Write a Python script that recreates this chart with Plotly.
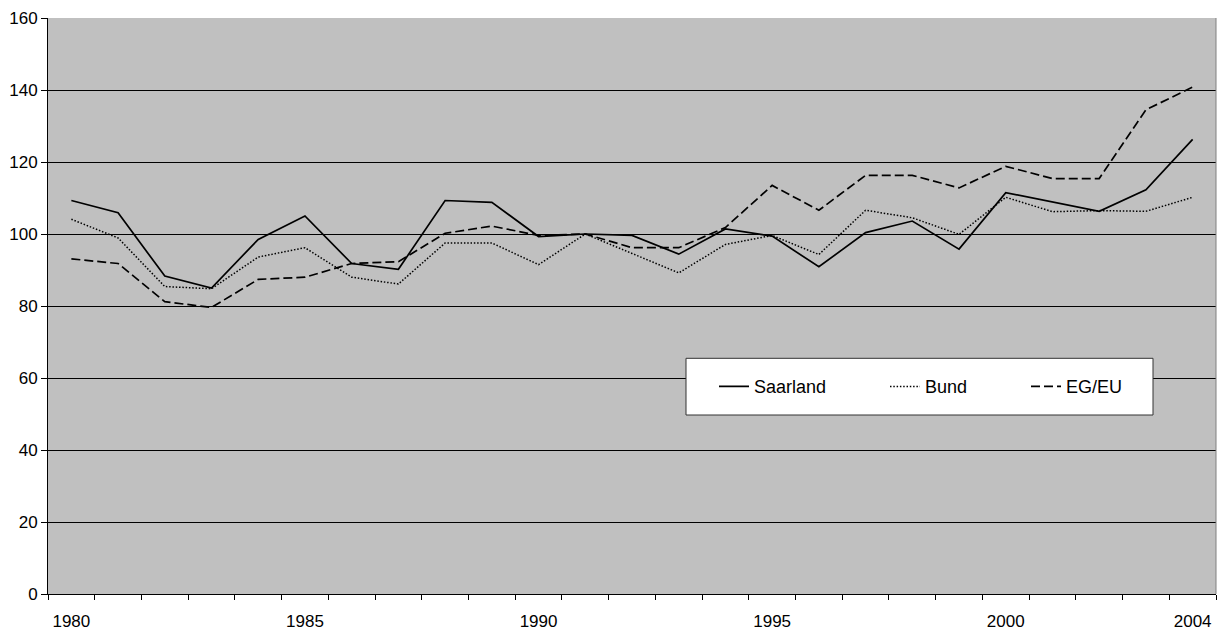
import plotly.graph_objects as go

years = list(range(1980, 2005))
saarland = [109.3, 105.9, 88.3, 85.0, 98.5, 105.0, 91.8, 90.2, 109.3, 108.8, 99.3, 100.0, 99.6,
            94.4, 101.4, 99.4, 90.9, 100.4, 103.6, 95.8, 111.5, 108.8, 106.3, 112.3, 126.3]
bund = [104.1, 98.9, 85.4, 84.8, 93.6, 96.2, 88.0, 86.1, 97.5, 97.5, 91.5, 100.0, 94.6,
        89.2, 97.1, 99.6, 94.3, 106.6, 104.5, 99.9, 110.2, 106.2, 106.5, 106.3, 110.2]
eu = [93.1, 91.8, 81.2, 79.6, 87.4, 88.0, 91.8, 92.3, 100.2, 102.2, 99.6, 100.0, 96.2,
      96.2, 101.8, 113.5, 106.6, 116.3, 116.3, 112.8, 118.8, 115.4, 115.4, 134.5, 140.8]
xtick_labels = [1980, 1985, 1990, 1995, 2000, 2004]
series_names = ["Saarland", "Bund", "EG/EU"]

FONT = "Liberation Sans, Arial, Helvetica, sans-serif"

fig = go.Figure()
fig.add_trace(go.Scatter(x=years, y=saarland, name=series_names[0], mode="lines",
                         line=dict(color="black", width=1.7), legend="legend"))
fig.add_trace(go.Scatter(x=years, y=bund, name=series_names[1], mode="lines",
                         line=dict(color="black", width=1.5, dash="1.5px,1.8px"), legend="legend2"))
fig.add_trace(go.Scatter(x=years, y=eu, name=series_names[2], mode="lines",
                         line=dict(color="black", width=1.7, dash="9px,4px"), legend="legend3"))

L, R, T, B = 48, 3, 18, 38
W, H = 1219, 632
pw, ph = W - L - R, H - T - B

def px_x(p):
    return (p - L) / pw

def px_y(p):
    return (H - B - p) / ph

leg_common = dict(orientation="h", bgcolor="rgba(0,0,0,0)", borderwidth=0,
                  font=dict(family=FONT, size=18, color="black"),
                  xanchor="left", yanchor="middle", y=px_y(386.7))

fig.update_layout(
    width=W, height=H,
    margin=dict(l=L, r=R, t=T, b=B, autoexpand=False),
    paper_bgcolor="white",
    plot_bgcolor="#c0c0c0",
    font=dict(family=FONT, size=17, color="black"),
    showlegend=True,
    legend=dict(x=px_x(714), **leg_common),
    legend2=dict(x=px_x(885), **leg_common),
    legend3=dict(x=px_x(1026), **leg_common),
    xaxis=dict(
        range=[1979.5, 2004.5],
        tickvals=xtick_labels,
        ticktext=[str(v) for v in xtick_labels],
        ticks="",
        ticklabelstandoff=12,
        showgrid=False,
        zeroline=False,
        automargin=False,
        showline=True, linecolor="black", linewidth=1,
        minor=dict(ticks="outside", ticklen=5, tickcolor="black", tickwidth=1,
                   tick0=1979.5, dtick=1, showgrid=False),
        tickfont=dict(family=FONT, size=17, color="black"),
        fixedrange=True,
    ),
    yaxis=dict(
        range=[0, 160],
        tick0=0, dtick=20,
        ticks="outside", ticklen=6, tickcolor="black", tickwidth=1,
        showgrid=True, gridcolor="black", gridwidth=1,
        zeroline=False,
        automargin=False,
        showline=True, linecolor="black", linewidth=1,
        tickfont=dict(family=FONT, size=17, color="black"),
        fixedrange=True,
    ),
    shapes=[
        dict(type="line", xref="paper", yref="paper", x0=1, x1=1, y0=0, y1=1,
             line=dict(color="#808080", width=1), layer="above"),
        dict(type="rect", xref="paper", yref="paper",
             x0=px_x(686), x1=px_x(1153), y0=px_y(415), y1=px_y(358.3),
             fillcolor="white", line=dict(color="#333333", width=1), layer="above"),
    ],
)

fig.write_html(
    "out.html",
    config={"displayModeBar": False},
    post_script="document.body.style.margin='0';document.body.style.overflow='hidden';",
)
